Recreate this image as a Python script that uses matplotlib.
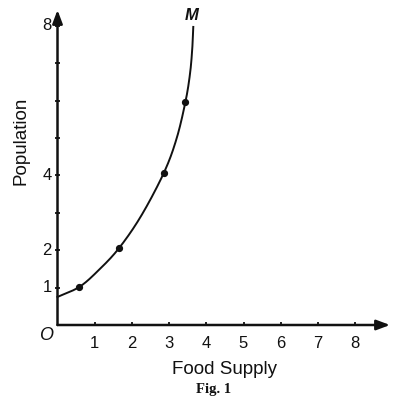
import numpy as np
import matplotlib
matplotlib.use("Agg")
import matplotlib.pyplot as plt

# Data
x_ticks = [1, 2, 3, 4, 5, 6, 7, 8]
y_ticks_all = [1, 2, 3, 4, 5, 6, 7, 8]
y_tick_labels = {1: "1", 2: "2", 4: "4", 8: "8"}
dot_x = [0.59, 1.65, 2.86, 3.44]
dot_y = [1.02, 2.05, 4.07, 5.97]
curve_x = [0.0, 0.59, 1.1, 1.65, 2.25, 2.86, 3.2, 3.44, 3.56, 3.62, 3.65]
curve_y = [0.75, 1.02, 1.46, 2.05, 2.92, 4.07, 4.98, 5.97, 6.7, 7.35, 7.97]


def catmull_rom(xs, ys, n=30):
    P = np.column_stack([xs, ys])
    P = np.vstack([P[0] * 2 - P[1], P, P[-1] * 2 - P[-2]])
    out = []
    for i in range(1, len(P) - 2):
        p0, p1, p2, p3 = P[i - 1], P[i], P[i + 1], P[i + 2]
        for t in np.linspace(0, 1, n, endpoint=False):
            t2, t3 = t * t, t * t * t
            pt = 0.5 * ((2 * p1) + (-p0 + p2) * t + (2 * p0 - 5 * p1 + 4 * p2 - p3) * t2
                        + (-p0 + 3 * p1 - 3 * p2 + p3) * t3)
            out.append(pt)
    out.append(P[-2])
    out = np.array(out)
    return out[:, 0], out[:, 1]


fig = plt.figure(figsize=(3.93, 4.00), dpi=100)
ax = fig.add_axes([0, 0, 1, 1])
sx, sy = 37.2, 37.4
ox, oy = 57.5, 325
ax.set_xlim(-ox / sx, (393 - ox) / sx)
ax.set_ylim(-(400 - oy) / sy, oy / sy)
ax.axis("off")

font = ["Liberation Sans", "DejaVu Sans"]
k = "#111111"

# axes with arrows
ax.annotate("", xy=((390 - ox) / sx, 0), xytext=(0, 0),
            arrowprops=dict(arrowstyle="-|>,head_length=0.8,head_width=0.3", color=k, lw=1.8,
                            shrinkA=0, shrinkB=0))
ax.annotate("", xy=(0, (oy - 10) / sy), xytext=(0, 0),
            arrowprops=dict(arrowstyle="-|>,head_length=0.8,head_width=0.3", color=k, lw=1.8,
                            shrinkA=0, shrinkB=0))

# ticks
for xv in x_ticks:
    ax.plot([xv, xv], [0, 0.09], color=k, lw=1.3, solid_capstyle="butt")
    ax.text(xv, -19 / sy, str(xv), ha="center", va="center", fontsize=12, family=font, color=k)
for yv in y_ticks_all:
    ax.plot([-0.08, 0.08], [yv, yv], color=k, lw=1.3, solid_capstyle="butt")
    if yv in y_tick_labels:
        ax.text(-6 / sx, yv, y_tick_labels[yv], ha="right", va="center", fontsize=12,
                family=font, color=k)

# curve and dots
cx, cy = catmull_rom(curve_x, curve_y)
ax.plot(cx, cy, color=k, lw=1.4)
ax.plot(dot_x, dot_y, "o", color=k, ms=4.2)

# labels
ax.text((46 - ox) / sx, (oy - 336) / sy, "O", ha="center", va="center", fontsize=13,
        style="italic", family=font, color=k)
ax.text((192 - ox) / sx, (oy - 15) / sy, "M", ha="center", va="center", fontsize=12,
        style="italic", weight="bold", family=font, color=k)
ax.text((21 - ox) / sx, (oy - 141) / sy, "Population", ha="center", va="center", rotation=90,
        fontsize=13.5, family=font, color=k)
ax.text((224 - ox) / sx, (oy - 370) / sy, "Food Supply", ha="center", va="center",
        fontsize=13.5, family=font, color=k)
ax.text((214 - ox) / sx, (oy - 389) / sy, "Fig. 1", ha="center", va="center",
        fontsize=10.5, weight="bold", family=["Liberation Serif", "DejaVu Serif"], color=k)

fig.savefig("out.png", dpi=100)
